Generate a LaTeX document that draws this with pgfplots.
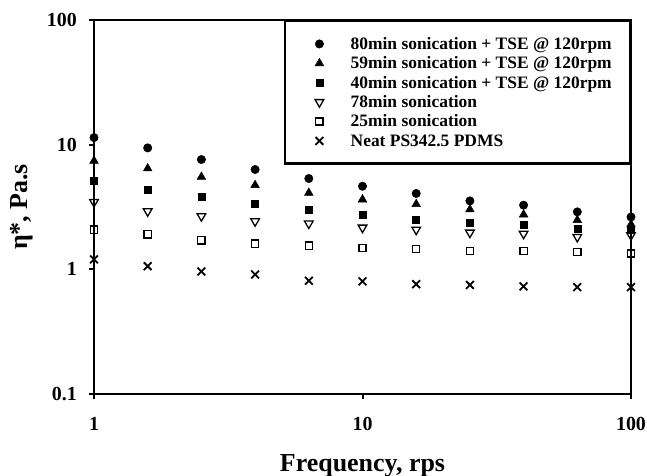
\documentclass[border=0pt]{standalone}
\usepackage{fontspec}
\setmainfont{Liberation Serif}
\usepackage{pgfplots}
\pgfplotsset{compat=1.18}
\usepackage{pgfplotstable}

\pgfplotstableread{
f      A     B     C     D     E     F
1      11.4  7.41  5.12  3.47  2.08  1.20
1.585  9.42  6.44  4.31  2.92  1.91  1.06
2.512  7.60  5.51  3.81  2.67  1.71  0.96
3.981  6.32  4.73  3.37  2.43  1.61  0.91
6.31   5.35  4.10  3.02  2.33  1.55  0.81
10     4.64  3.63  2.75  2.16  1.48  0.80
15.85  4.06  3.33  2.51  2.08  1.45  0.76
25.12  3.54  3.02  2.35  1.97  1.40  0.75
39.81  3.27  2.75  2.26  1.93  1.40  0.73
63.1   2.89  2.48  2.12  1.82  1.38  0.72
100    2.63  2.29  2.06  1.88  1.34  0.72
}\data

\begin{document}
\begin{tikzpicture}
\useasboundingbox (-94bp,-82bp) rectangle (553bp,394bp);
\begin{axis}[
  at={(0,0)}, anchor=south west,
  scale only axis, width=537bp, height=374bp,
  xmode=log, ymode=log,
  xmin=1, xmax=100, ymin=0.1, ymax=100,
  xtick={1,10,100}, xticklabels={1,10,100},
  ytick={0.1,1,10,100}, yticklabels={0.1,1,10,100},
  minor tick length=0pt, minor tick style={draw=none},
  xtick pos=bottom, ytick pos=left,
  tick align=outside, major tick length=5bp,
  every tick/.style={black, line width=2bp},
  axis line style={line width=2.5bp},
  tick label style={font=\bfseries\fontsize{20}{24}\selectfont, inner sep=0pt},
  xticklabel style={anchor=base, yshift=-31bp},
  yticklabel style={anchor=east, xshift=-12bp},
  xlabel={Frequency, rps},
  ylabel={η*, Pa.s},
  label style={font=\bfseries\fontsize{26}{30}\selectfont},
  xlabel style={at={(axis description cs:0.5,0)}, anchor=base, yshift=-77.5bp, inner sep=0pt},
  ylabel style={at={(axis description cs:0,0.5)}, anchor=center, yshift=72bp, inner sep=0pt},
  clip=false,
  legend style={at={(1,1)}, anchor=north east, draw=black, line width=2.5bp,
    inner xsep=18bp, inner ysep=13bp, row sep=0pt, column sep=0pt,
    nodes={inner sep=0pt, text height=15bp, text depth=4.4bp,
      font=\bfseries\fontsize{17.5}{19}\selectfont}},
  legend cell align=left,
  legend image code/.code={\path (0bp,0bp) (45bp,0bp);
    \draw[mark repeat=2,mark phase=2] plot coordinates {(0bp,0bp)(15bp,0bp)(45bp,0bp)};},
]
\addplot[only marks, mark=*, mark size=4.2bp, mark options={fill=black, draw=black, line width=0.5bp}] table[x=f,y=A] {\data};
\addlegendentry{80min sonication + TSE @ 120rpm}
\addplot[only marks, mark=triangle*, mark size=5bp, mark options={fill=black, draw=black, line width=0.5bp}] table[x=f,y=B] {\data};
\addlegendentry{59min sonication + TSE @ 120rpm}
\addplot[only marks, mark=square*, mark size=3.5bp, mark options={fill=black, draw=black, line width=0.5bp}] table[x=f,y=C] {\data};
\addlegendentry{40min sonication + TSE @ 120rpm}
\addplot[only marks, mark=triangle, mark size=5bp, mark options={draw=black, fill=white, line width=1.3bp, rotate=180}] table[x=f,y=D] {\data};
\addlegendentry{78min sonication}
\addplot[only marks, mark=square, mark size=3.6bp, mark options={draw=black, fill=white, line width=1.3bp}] table[x=f,y=E] {\data};
\addlegendentry{25min sonication}
\addplot[only marks, mark=x, mark size=5.5bp, mark options={draw=black, line width=1.8bp}] table[x=f,y=F] {\data};
\addlegendentry{Neat PS342.5 PDMS}
\end{axis}
\end{tikzpicture}
\end{document}
